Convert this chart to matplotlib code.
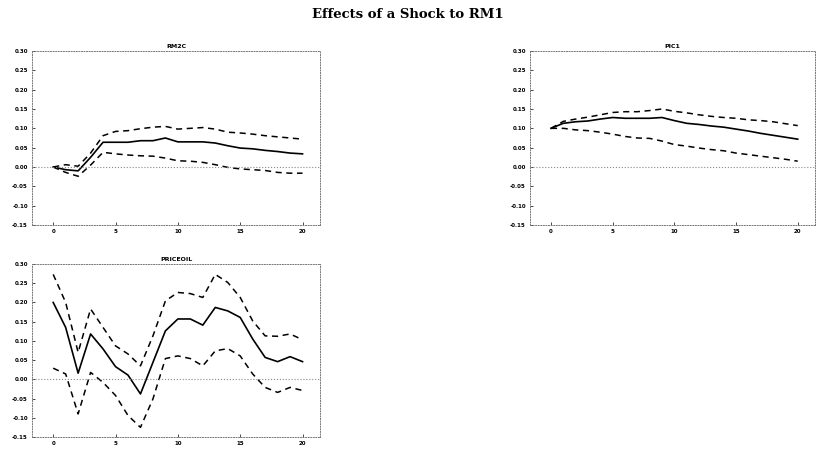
import matplotlib
matplotlib.use("Agg")
import matplotlib.pyplot as plt
import numpy as np

steps = list(range(21))

title_main = "Effects of a Shock to RM1"
panel_titles = ["RM2C", "PIC1", "PRICEOIL"]

rm2c_mid = [0.0, -0.007, -0.01, 0.025, 0.064, 0.064, 0.064, 0.068, 0.068, 0.075, 0.065,
            0.065, 0.065, 0.062, 0.055, 0.049, 0.047, 0.043, 0.040, 0.036, 0.034]
rm2c_up = [0.0, 0.006, 0.002, 0.036, 0.081, 0.092, 0.094, 0.099, 0.103, 0.105, 0.098,
           0.100, 0.102, 0.098, 0.090, 0.088, 0.085, 0.081, 0.078, 0.075, 0.072]
rm2c_lo = [0.0, -0.014, -0.024, 0.005, 0.038, 0.034, 0.031, 0.029, 0.028, 0.023, 0.016,
           0.015, 0.012, 0.006, -0.001, -0.005, -0.007, -0.009, -0.014, -0.016, -0.016]

pic1_mid = [0.100, 0.113, 0.117, 0.119, 0.124, 0.128, 0.126, 0.126, 0.126, 0.128, 0.120,
            0.113, 0.110, 0.106, 0.103, 0.098, 0.093, 0.087, 0.082, 0.077, 0.072]
pic1_up = [0.100, 0.118, 0.124, 0.129, 0.135, 0.141, 0.143, 0.143, 0.146, 0.150, 0.144,
           0.140, 0.135, 0.131, 0.128, 0.126, 0.122, 0.120, 0.117, 0.112, 0.107]
pic1_lo = [0.100, 0.100, 0.096, 0.094, 0.090, 0.085, 0.079, 0.075, 0.074, 0.067, 0.058,
           0.054, 0.049, 0.045, 0.042, 0.036, 0.032, 0.028, 0.024, 0.020, 0.015]

oil_mid = [0.200, 0.135, 0.016, 0.118, 0.079, 0.033, 0.011, -0.038, 0.044, 0.126, 0.157,
           0.157, 0.141, 0.187, 0.178, 0.161, 0.105, 0.057, 0.046, 0.059, 0.046]
oil_up = [0.273, 0.200, 0.070, 0.183, 0.135, 0.087, 0.066, 0.035, 0.113, 0.204, 0.226,
          0.223, 0.213, 0.273, 0.252, 0.213, 0.152, 0.113, 0.112, 0.118, 0.103]
oil_lo = [0.029, 0.014, -0.090, 0.018, -0.008, -0.042, -0.094, -0.125, -0.051, 0.054, 0.061,
          0.054, 0.035, 0.074, 0.080, 0.061, 0.014, -0.021, -0.034, -0.021, -0.029]

yticks = [-0.15, -0.10, -0.05, 0.00, 0.05, 0.10, 0.15, 0.20, 0.25, 0.30]
ytick_labels = ["-0.15", "-0.10", "-0.05", "0.00", "0.05", "0.10", "0.15", "0.20", "0.25", "0.30"]
xticks = [0, 5, 10, 15, 20]

W, H = 816, 450
fig = plt.figure(figsize=(W / 100, H / 100), dpi=100)

fig.text(0.5, 1 - 15 / H, title_main, ha="center", va="center",
         fontsize=9.5, fontweight="bold", family="DejaVu Serif")

boxes = [(32, 225, 288, 174), (530, 225, 285, 174), (32, 437, 288, 173)]
series = [(rm2c_mid, rm2c_up, rm2c_lo), (pic1_mid, pic1_up, pic1_lo), (oil_mid, oil_up, oil_lo)]

for (l, b, w, h), (mid, up, lo), name in zip(boxes, series, panel_titles):
    ax = fig.add_axes([l / W, (H - b) / H, w / W, h / H])
    ax.plot(steps, up, color="black", lw=1.1, ls=(0, (4, 3)))
    ax.plot(steps, lo, color="black", lw=1.1, ls=(0, (4, 3)))
    ax.plot(steps, mid, color="black", lw=1.2)
    ax.axhline(0, color="#888888", lw=0.8, ls=":")
    ax.set_xlim(-1.7, 21.4)
    ax.set_ylim(-0.15, 0.30)
    ax.set_yticks(yticks)
    ax.set_yticklabels(ytick_labels)
    ax.set_xticks(xticks)
    ax.tick_params(axis="both", labelsize=4, direction="in", length=2, width=0.5, pad=3)
    for lab in ax.get_xticklabels() + ax.get_yticklabels():
        lab.set_fontweight("bold")
    for s in ax.spines.values():
        s.set_linestyle(":")
        s.set_linewidth(0.7)
        s.set_color("#777777")
    ax.set_title(name, fontsize=4.5, fontweight="bold", pad=2)

fig.savefig("out.png", dpi=100)
